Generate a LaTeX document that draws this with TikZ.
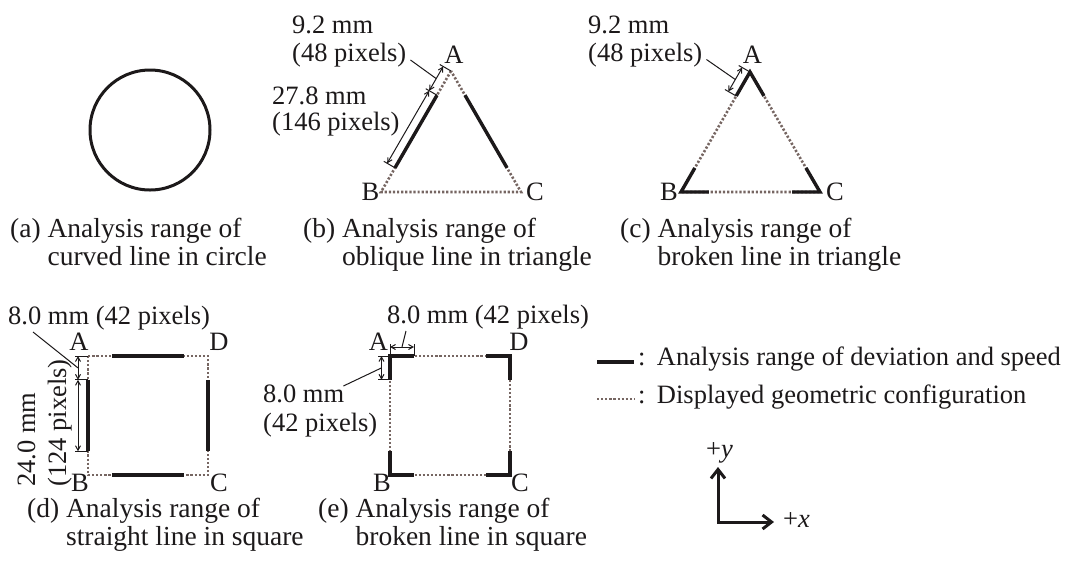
\documentclass[tikz,border=0pt]{standalone}
\usepackage{fontspec}
\setmainfont{Liberation Serif}
\usetikzlibrary{calc,arrows.meta}
\definecolor{ink}{RGB}{28,25,26}
\definecolor{dotc}{RGB}{118,102,98}
\tikzset{
 solidseg/.style={line width=3.4pt, draw=ink},
 dotseg/.style={line width=2.6pt, draw=dotc, dash pattern=on 2.2pt off 1.9pt},
 dimline/.style={line width=1pt, draw=ink, {Straight Barb[length=4.5pt,width=5pt]}-{Straight Barb[length=4.5pt,width=5pt]}},
 tickline/.style={line width=1pt, draw=ink},
 leaderline/.style={line width=1pt, draw=ink},
 lbl/.style={inner sep=0pt, text=ink, font=\fontsize{26.5}{28}\selectfont},
 captxt/.style={inner sep=0pt, text=ink, font=\fontsize{27.5}{28}\selectfont, anchor=base west},
 axisarrow/.style={line width=3pt, draw=ink, {Straight Barb[length=9pt,width=14pt]}-{Straight Barb[length=9pt,width=14pt]}},
}
\begin{document}
\begin{tikzpicture}[x=1pt,y=-1pt]
\useasboundingbox (0,0) rectangle (1068,566);

% ---------- (a) circle
\node[circle, draw=ink, line width=3pt, minimum size=120pt, inner sep=0pt] (circ) at (150,130) {};
\node[captxt] (capa) at (10,237) {\begin{tabular}[t]{@{}l@{ }l@{}}(a)&Analysis range of\\&curved line in circle\end{tabular}};

% ---------- (b) oblique line in triangle
\coordinate (bA) at (451,71);
\coordinate (bB) at (381,192);
\coordinate (bC) at (521,192);
\draw[dotseg] (bA) -- (bB) -- (bC) -- cycle;
\draw[solidseg] ($(bA)!0.2!(bB)$) -- ($(bA)!0.8!(bB)$);
\draw[solidseg] ($(bA)!0.2!(bC)$) -- ($(bA)!0.8!(bC)$);
\coordinate (bP1) at ($(bA)!0.2!(bB)$);
\coordinate (bP2) at ($(bA)!0.8!(bB)$);
\coordinate (bT0) at ($(bA)!13pt!-90:(bB)$);
\coordinate (bT1) at ($(bP1)!13pt!-90:(bB)$);
\coordinate (bT2) at ($(bP2)!13pt!-90:(bB)$);
\coordinate (bD0) at ($(bA)!9pt!-90:(bB)$);
\coordinate (bD1) at ($(bP1)!9pt!-90:(bB)$);
\coordinate (bD2) at ($(bP2)!9pt!-90:(bB)$);
\draw[tickline] (bA) -- (bT0);
\draw[tickline] (bP1) -- (bT1);
\draw[tickline] (bP2) -- (bT2);
\draw[dimline] (bD0) -- (bD1);
\draw[dimline] (bD1) -- (bD2);
\coordinate (bM) at ($(bD0)!0.5!(bD1)$);
\node[lbl, anchor=base west] (b92) at (292,33) {9.2 mm};
\node[lbl, anchor=base west] (b48) at (292,61.5) {(48 pixels)};
\node[lbl, anchor=base west] (b278) at (272,104) {27.8 mm};
\node[lbl, anchor=base west] (b146) at (272,130) {(146 pixels)};
\draw[leaderline] ([shift={(4,-1.5)}]b48.base east) -- (bM);
\node[lbl] (bAl) at (454,55) {A};
\node[lbl] (bBl) at (370.5,191.5) {B};
\node[lbl] (bCl) at (535,191.5) {C};
\node[captxt] (capb) at (303,237) {\begin{tabular}[t]{@{}l@{ }l@{}}(b)&Analysis range of\\&oblique line in triangle\end{tabular}};

% ---------- (c) broken line in triangle
\coordinate (cA) at (750,72);
\coordinate (cB) at (681,192);
\coordinate (cC) at (820,192);
\draw[dotseg] (cA) -- (cB) -- (cC) -- cycle;
\draw[solidseg] ($(cA)!0.2!(cB)$) -- (cA) -- ($(cA)!0.2!(cC)$);
\draw[solidseg] ($(cB)!0.2!(cA)$) -- (cB) -- ($(cB)!0.2!(cC)$);
\draw[solidseg] ($(cC)!0.2!(cA)$) -- (cC) -- ($(cC)!0.2!(cB)$);
\coordinate (cP1) at ($(cA)!0.2!(cB)$);
\coordinate (cT0) at ($(cA)!13pt!-90:(cB)$);
\coordinate (cT1) at ($(cP1)!13pt!-90:(cB)$);
\coordinate (cD0) at ($(cA)!9pt!-90:(cB)$);
\coordinate (cD1) at ($(cP1)!9pt!-90:(cB)$);
\draw[tickline] (cA) -- (cT0);
\draw[tickline] (cP1) -- (cT1);
\draw[dimline] (cD0) -- (cD1);
\coordinate (cM) at ($(cD0)!0.5!(cD1)$);
\node[lbl, anchor=base west] (c92) at (588,33) {9.2 mm};
\node[lbl, anchor=base west] (c48) at (588,61) {(48 pixels)};
\draw[leaderline] ([shift={(4,-1.5)}]c48.base east) -- (cM);
\node[lbl] (cAl) at (752.5,55) {A};
\node[lbl] (cBl) at (669,191.5) {B};
\node[lbl] (cCl) at (835,191.5) {C};
\node[captxt] (capc) at (620,237) {\begin{tabular}[t]{@{}l@{ }l@{}}(c)&Analysis range of\\&broken line in triangle\end{tabular}};

% ---------- (d) straight line in square
\coordinate (dA) at (88,356);
\coordinate (dB) at (88,475);
\coordinate (dC) at (208,475);
\coordinate (dD) at (208,356);
\draw[dotseg] (dA) -- (dB) -- (dC) -- (dD) -- cycle;
\draw[solidseg] ($(dA)!0.2!(dD)$) -- ($(dA)!0.8!(dD)$);
\draw[solidseg] ($(dA)!0.2!(dB)$) -- ($(dA)!0.8!(dB)$);
\draw[solidseg] ($(dB)!0.2!(dC)$) -- ($(dB)!0.8!(dC)$);
\draw[solidseg] ($(dD)!0.2!(dC)$) -- ($(dD)!0.8!(dC)$);
\coordinate (dP1) at ($(dA)!0.2!(dB)$);
\coordinate (dP2) at ($(dA)!0.8!(dB)$);
\coordinate (dT0) at ($(dA)!13pt!-90:(dB)$);
\coordinate (dT1) at ($(dP1)!13pt!-90:(dB)$);
\coordinate (dT2) at ($(dP2)!13pt!-90:(dB)$);
\coordinate (dD0) at ($(dA)!10pt!-90:(dB)$);
\coordinate (dD1) at ($(dP1)!10pt!-90:(dB)$);
\coordinate (dD2) at ($(dP2)!10pt!-90:(dB)$);
\draw[tickline] (dA) -- (dT0);
\draw[tickline] (dP1) -- (dT1);
\draw[tickline] (dP2) -- (dT2);
\draw[dimline] (dD0) -- (dD1);
\draw[dimline] (dD1) -- (dD2);
\coordinate (dM) at ($(dD0)!0.5!(dD1)$);
\node[lbl, anchor=base west] (d80) at (8,324) {8.0 mm (42 pixels)};
\coordinate (dLs) at ($(d80.base west)+(25,8)$);
\draw[leaderline] (dLs) -- (dM);
\node[lbl, rotate=90, anchor=base west] (d240) at (35,487) {24.0 mm};
\node[lbl, rotate=90, anchor=base west] (d124) at (66,487) {(124 pixels)};
\node[lbl] (dAl) at (79,342) {A};
\node[lbl] (dDl) at (219,342) {D};
\node[lbl] (dBl) at (80,483) {B};
\node[lbl] (dCl) at (219,483) {C};
\node[captxt] (capd) at (27,517) {\begin{tabular}[t]{@{}l@{ }l@{}}(d)&Analysis range of\\&straight line in square\end{tabular}};

% ---------- (e) broken line in square
\coordinate (eA) at (390,356);
\coordinate (eB) at (390,475);
\coordinate (eC) at (510,475);
\coordinate (eD) at (510,356);
\draw[dotseg] (eA) -- (eB) -- (eC) -- (eD) -- cycle;
\draw[solidseg] ($(eA)!0.2!(eB)$) -- (eA) -- ($(eA)!0.2!(eD)$);
\draw[solidseg] ($(eD)!0.2!(eA)$) -- (eD) -- ($(eD)!0.2!(eC)$);
\draw[solidseg] ($(eB)!0.2!(eA)$) -- (eB) -- ($(eB)!0.2!(eC)$);
\draw[solidseg] ($(eC)!0.2!(eB)$) -- (eC) -- ($(eC)!0.2!(eD)$);
\coordinate (eH1) at ($(eA)!0.2!(eD)$);
\coordinate (eV1) at ($(eA)!0.2!(eB)$);
\coordinate (eHT0) at ($(eA)!12pt!90:(eD)$);
\coordinate (eHT1) at ($(eH1)!12pt!90:(eD)$);
\coordinate (eHD0) at ($(eA)!9pt!90:(eD)$);
\coordinate (eHD1) at ($(eH1)!9pt!90:(eD)$);
\coordinate (eVT0) at ($(eA)!12pt!-90:(eB)$);
\coordinate (eVT1) at ($(eV1)!12pt!-90:(eB)$);
\coordinate (eVD0) at ($(eA)!8.5pt!-90:(eB)$);
\coordinate (eVD1) at ($(eV1)!8.5pt!-90:(eB)$);
\draw[tickline] (eA) -- (eHT0);
\draw[tickline] (eH1) -- (eHT1);
\draw[tickline] (eA) -- (eVT0);
\draw[tickline] (eV1) -- (eVT1);
\draw[dimline] (eHD0) -- (eHD1);
\draw[dimline] (eVD0) -- (eVD1);
\coordinate (eHM) at ($(eHD0)!0.5!(eHD1)$);
\coordinate (eVM) at ($(eVD0)!0.5!(eVD1)$);
\node[lbl, anchor=base west] (e80t) at (387,323) {8.0 mm (42 pixels)};
\node[lbl, anchor=base west] (e80l) at (263,402) {8.0 mm};
\node[lbl, anchor=base west] (e42l) at (263,431) {(42 pixels)};
\coordinate (eHs) at ($(e80t.base west)+(19,8)$);
\coordinate (eVs) at ($(e80l.base east)+(-1,-16)$);
\draw[leaderline] (eHs) -- (eHM);
\draw[leaderline] (eVs) -- (eVM);
\node[lbl] (eAl) at (378.5,342) {A};
\node[lbl] (eDl) at (519,342) {D};
\node[lbl] (eBl) at (382,483) {B};
\node[lbl] (eCl) at (520,483) {C};
\node[captxt] (cape) at (318,517) {\begin{tabular}[t]{@{}l@{ }l@{}}(e)&Analysis range of\\&broken line in square\end{tabular}};

% ---------- legend
\coordinate (lg1a) at (597,362);
\coordinate (lg1b) at (634,362);
\coordinate (lg2a) at (597,399);
\coordinate (lg2b) at (635,399);
\draw[solidseg] (lg1a) -- (lg1b);
\draw[dotseg] (lg2a) -- (lg2b);
\node[lbl, anchor=base west] (lgt1) at (638,365) {:\hspace{0.43em}Analysis range of deviation and speed};
\node[lbl, anchor=base west] (lgt2) at (638,403) {:\hspace{0.43em}Displayed geometric configuration};

% ---------- axes
\coordinate (ax0) at (718,522);
\coordinate (axy) at (718,467);
\coordinate (axx) at (774,522);
\draw[axisarrow] (axy) -- (ax0) -- (axx);
\node[lbl, anchor=base west] (ylab) at (706,457) {+\textit{y}};
\node[lbl, anchor=base west] (xlab) at (783,527) {+\textit{x}};
\end{tikzpicture}
\end{document}
